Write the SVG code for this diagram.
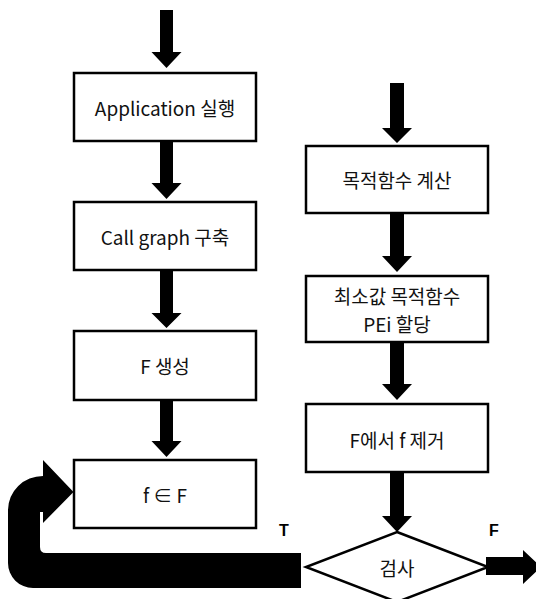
<svg xmlns="http://www.w3.org/2000/svg" width="536" height="599" viewBox="0 0 536 599">
<style>
.box{fill:#fff;stroke:#000;stroke-width:2.5}
.lbl{font-family:"Noto Sans CJK KR","Noto Sans",sans-serif;font-size:19px;fill:#111;text-anchor:middle;dominant-baseline:central}
.tf{font-family:"Liberation Sans",Arial,sans-serif;font-size:16px;font-weight:bold;fill:#000;text-anchor:middle}
.arrow{fill:#000;stroke:none}
</style>
<rect width="536" height="599" fill="#fff"/>
<g id="connectors">
<polygon class="arrow" points="160,10 173,10 173,52 181.5,52 166.5,68 151.5,52 160,52"/>
<polygon class="arrow" points="160,141 173,141 173,183 181.5,183 166.5,199 151.5,183 160,183"/>
<polygon class="arrow" points="160,270 173,270 173,313 181.5,313 166.5,328 151.5,313 160,313"/>
<polygon class="arrow" points="160,400 173,400 173,441 181.5,441 166.5,457 151.5,441 160,441"/>
<polygon class="arrow" points="390,83 404,83 404,128 412,128 397,143 382,128 390,128"/>
<polygon class="arrow" points="390,213 404,213 404,256 412,256 397,272 382,256 390,256"/>
<polygon class="arrow" points="390,342 404,342 404,384 412,384 397,400 382,384 390,384"/>
<polygon class="arrow" points="390,472 404,472 404,516 412,516 397,532 382,516 390,516"/>
<polygon class="arrow" points="486,557 523,557 523,550 541,567 523,584 523,575 486,575"/>
<path id="loop" class="arrow" d="M301,553 L46,553 Q40,553 40,547 L40,512 L43,512 L43,523 L73.5,492 L43,460 L43,476 A35,34 0 0 0 8,510 L8,563 A25,25 0 0 0 33,588 L301,588 Z"/>
<text class="tf" x="284" y="536">T</text>
<text class="tf" x="494" y="536">F</text>
</g>
<g id="n-app"><rect class="box" x="74" y="73" width="182" height="68"/><text class="lbl" x="165" y="107">Application 실행</text></g>
<g id="n-callgraph"><rect class="box" x="74" y="202" width="182" height="68"/><text class="lbl" x="165" y="236">Call graph 구축</text></g>
<g id="n-fgen"><rect class="box" x="74" y="331" width="182" height="69"/><text class="lbl" x="165" y="365">F 생성</text></g>
<g id="n-fin"><rect class="box" x="74" y="460" width="182" height="68"/><text class="lbl" x="165" y="494">f ∈ F</text></g>
<g id="n-calc"><rect class="box" x="306" y="146" width="182" height="67"/><text class="lbl" x="397" y="179">목적함수 계산</text></g>
<g id="n-assign"><rect class="box" x="306" y="276" width="182" height="66"/><text class="lbl" x="397" y="295">최소값 목적함수</text><text class="lbl" x="397" y="323">PEi 할당</text></g>
<g id="n-remove"><rect class="box" x="306" y="404" width="182" height="68"/><text class="lbl" x="397" y="439">F에서 f 제거</text></g>
<g id="n-check"><polygon class="box" points="397,532 488,567 397,602 306,567"/><text class="lbl" x="397" y="567">검사</text></g>
</svg>
